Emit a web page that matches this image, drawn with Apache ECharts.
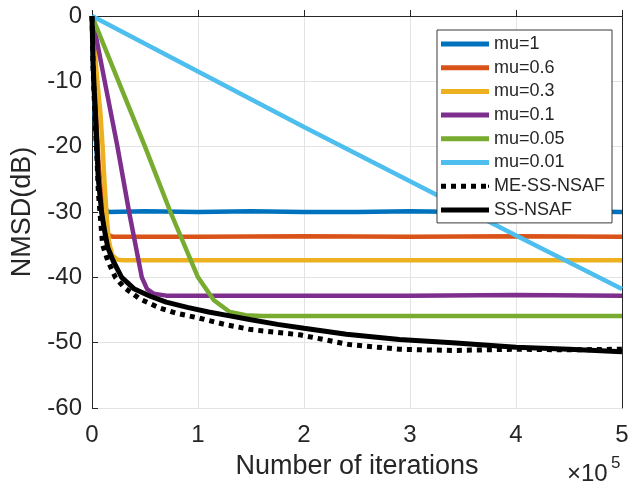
<!DOCTYPE html>
<html>
<head>
<meta charset="utf-8">
<script src="https://cdn.jsdelivr.net/npm/echarts@6/dist/echarts.min.js"></script>
<style>html,body{margin:0;padding:0;background:#fff;}#c{width:639px;height:485px;}</style>
</head>
<body>
<div id="c"></div>
<script>
// x in units of 1e5 iterations, y in dB
const xTicks = [0, 1, 2, 3, 4, 5];
const yTicks = [0, -10, -20, -30, -40, -50, -60];
const seriesNames = ['mu=1', 'mu=0.6', 'mu=0.3', 'mu=0.1', 'mu=0.05', 'mu=0.01', 'ME-SS-NSAF', 'SS-NSAF'];
const colors = ['#0072BD', '#D95319', '#EDB120', '#7E2F8E', '#77AC30', '#4DBEEE', '#000000', '#000000'];

const mu1 = [[0,0],[0.01,-8],[0.03,-17],[0.06,-25],[0.1,-29],[0.15,-30],[0.5,-29.9],[1,-30],[1.5,-29.9],[2,-30],[2.5,-30],[3,-29.9],[3.5,-30],[4,-30],[4.5,-29.9],[5,-30]];
const mu06 = [[0,0],[0.03,-12],[0.06,-22],[0.1,-30],[0.15,-33.5],[0.2,-33.8],[1,-33.8],[2,-33.7],[3,-33.8],[4,-33.7],[5,-33.8]];
const mu03 = [[0,0],[0.02,-4],[0.05,-10],[0.08,-15],[0.1,-20],[0.12,-26],[0.14,-31],[0.16,-34.5],[0.19,-36.6],[0.24,-37.3],[0.3,-37.4],[1,-37.4],[2,-37.4],[3,-37.4],[4,-37.4],[5,-37.4]];
const mu01 = [[0,0],[0.12,-10],[0.24,-20],[0.35,-30],[0.47,-40],[0.52,-41.8],[0.58,-42.5],[0.7,-42.8],[1,-42.8],[2,-42.8],[3,-42.8],[4,-42.7],[5,-42.8]];
const mu005 = [[0,0],[0.25,-10],[0.5,-20],[0.74,-30],[1.0,-40],[1.15,-43.5],[1.3,-45.3],[1.45,-45.8],[1.6,-45.9],[2,-45.9],[3,-45.9],[4,-45.9],[5,-45.9]];
const mu001 = [[0,0],[1,-8.5],[2,-17],[3,-25.3],[4,-33.6],[5,-41.8]];
const meSsNsaf = [[0,0],[0.01,-8],[0.02,-12],[0.03,-16],[0.045,-21],[0.06,-27],[0.08,-31],[0.1,-35],[0.15,-37.5],[0.22,-40],[0.3,-41.5],[0.45,-43.3],[0.64,-44.7],[0.8,-45.5],[1.0,-46.2],[1.25,-47.2],[1.5,-48.0],[1.96,-48.8],[2.43,-50.3],[2.9,-51.0],[3.4,-51.2],[4.0,-51.0],[4.5,-51.1],[5.0,-51.0]];
const ssNsaf = [[0,0],[0.01,-7],[0.02,-11],[0.03,-14],[0.045,-19],[0.06,-25],[0.09,-30],[0.12,-33],[0.15,-35.5],[0.2,-37.5],[0.28,-40],[0.4,-41.8],[0.55,-42.9],[0.7,-43.8],[0.9,-44.6],[1.1,-45.3],[1.3,-45.9],[1.5,-46.5],[1.75,-47.2],[2.0,-47.8],[2.4,-48.7],[2.9,-49.5],[3.4,-50.0],[4.0,-50.7],[4.5,-51.0],[5.0,-51.4]];

const allData = [mu1, mu06, mu03, mu01, mu005, mu001, meSsNsaf, ssNsaf];
const FONT = "'Liberation Sans', Arial, Helvetica, sans-serif";
const SOLID_ICON = 'path://M0,0H48V5H0Z';
const DOT_ICON = 'path://M0,0H5V5H0Z M10,0H15V5H10Z M20,0H25V5H20Z M30,0H35V5H30Z M40,0H45V5H40Z M47,1H48V4H47Z';

const series = allData.map((d, i) => ({
  name: seriesNames[i],
  type: 'line',
  data: d,
  symbol: 'none',
  smooth: false,
  animation: false,
  color: colors[i],
  itemStyle: {color: colors[i]},
  lineStyle: {
    color: colors[i],
    width: i === 6 ? 5 : (i === 7 ? 5 : 4.5),
    type: i === 6 ? [5, 5] : 'solid',
    cap: 'butt'
  }
}));

const chart = echarts.init(document.getElementById('c'), null, {renderer: 'canvas'});
chart.setOption({
  backgroundColor: '#ffffff',
  animation: false,
  grid: {left: 92, right: 17, top: 16, bottom: 74, containLabel: false},
  xAxis: {
    type: 'value', min: 0, max: 5, interval: 1,
    name: 'Number of iterations', nameLocation: 'middle', nameGap: 45,
    nameTextStyle: {fontFamily: FONT, fontSize: 27, color: '#262626'},
    axisLine: {show: true, lineStyle: {color: '#262626', width: 1}},
    axisTick: {show: true, inside: true, length: 6, lineStyle: {color: '#262626'}},
    axisLabel: {fontFamily: FONT, fontSize: 24, color: '#262626', margin: 15,
      formatter: v => xTicks.includes(v) ? String(v) : ''},
    splitLine: {show: true, lineStyle: {color: '#e3e3e3', width: 1}}
  },
  yAxis: [{
    type: 'value', min: -60, max: 0, interval: 10,
    name: 'NMSD(dB)', nameLocation: 'middle', nameGap: 44,
    nameTextStyle: {fontFamily: FONT, fontSize: 27, color: '#262626'},
    axisLine: {show: true, lineStyle: {color: '#262626', width: 1}},
    axisTick: {show: true, inside: true, length: 6, lineStyle: {color: '#262626'}},
    axisLabel: {fontFamily: FONT, fontSize: 24, color: '#262626', margin: 10,
      formatter: v => yTicks.includes(v) ? String(v) : ''},
    splitLine: {show: true, lineStyle: {color: '#e3e3e3', width: 1}}
  }, {
    type: 'value', min: -60, max: 0, interval: 10, position: 'right',
    axisLine: {show: true, onZero: false, lineStyle: {color: '#262626', width: 1}},
    axisTick: {show: false}, axisLabel: {show: false}, splitLine: {show: false}
  }],
  legend: {
    orient: 'vertical', left: 437, top: 30,
    padding: [5, 7, 4, 4],
    itemWidth: 48, itemHeight: 5, itemGap: 5.7,
    backgroundColor: '#ffffff', borderColor: '#3a3a3a', borderWidth: 1,
    textStyle: {fontFamily: FONT, fontSize: 18, color: '#262626', lineHeight: 18},
    itemStyle: {borderWidth: 0},
    data: seriesNames.map((n, i) => ({name: n, icon: i === 6 ? DOT_ICON : SOLID_ICON})),
    selectedMode: false
  },
  graphic: [
    {type: 'text', left: 567, top: 462, style: {text: '×10', fontFamily: FONT, fontSize: 24, fill: '#262626'}},
    {type: 'text', left: 611, top: 455, style: {text: '5', fontFamily: FONT, fontSize: 17, fill: '#262626'}}
  ],
  series: series
});
</script>
</body>
</html>
